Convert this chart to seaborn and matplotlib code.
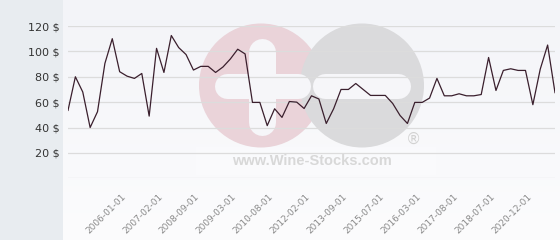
import matplotlib
matplotlib.use("Agg")
import matplotlib.pyplot as plt
import matplotlib.transforms as mtransforms
from matplotlib.patches import Circle, Rectangle
import numpy as np
import pandas as pd
import seaborn as sns

# ---------------- data ----------------
prices = [53.5, 80, 68, 40, 52.5, 90.5, 110, 84, 80.5, 78.7,
          82.6, 49, 102.4, 83.4, 112.5, 103, 97.5, 85.3, 88.2, 88.2,
          83.4, 87.7, 94, 101.7, 98, 59.8, 59.8, 41.5, 54.8, 48,
          60.5, 60, 55, 65, 62.5, 43.2, 54.8, 70, 70, 74.7,
          70, 65.3, 65.3, 65.3, 59, 49.5, 43.2, 59.8, 59.8, 63.2,
          78.7, 65, 65, 66.6, 65, 65, 66, 95.2, 69.2, 85,
          86.3, 85, 85, 58, 86, 105, 67.5]
tick_labels = ["2006-01-01", "2007-02-01", "2008-09-01", "2009-03-01",
               "2010-08-01", "2012-02-01", "2013-09-01", "2015-07-01",
               "2016-03-01", "2017-08-01", "2018-07-01", "2020-12-01"]
first_labelled = 7
label_step = 5
y_ticks = [0, 20, 40, 60, 80, 100, 120]
y_tick_labels = ["", "20 $", "40 $", "60 $", "80 $", "100 $", "120 $"]

df = pd.DataFrame({"idx": np.arange(len(prices)), "price": prices})

W, H = 560, 240
fig = plt.figure(figsize=(W / 100, H / 100), dpi=100)
fig.patch.set_facecolor("#e8ecf0")

# plot background (light gradient)
bg = fig.add_axes([63 / W, 0, (W - 63) / W, 1])
bg.set_axis_off()
grad = np.linspace(0, 1, 256).reshape(-1, 1)
c_top = np.array([243, 244, 248]) / 255
c_bot = np.array([252, 252, 253]) / 255
img = c_top[None, None, :] * (1 - grad[:, :, None]) + c_bot[None, None, :] * grad[:, :, None]
bg.imshow(img, aspect="auto", extent=[0, 1, 0, 1])
bg.set_zorder(0)

# watermark in pixel coordinates
wm = fig.add_axes([0, 0, 1, 1])
wm.set_xlim(0, W)
wm.set_ylim(H, 0)
wm.set_axis_off()
wm.patch.set_alpha(0)
wm.set_zorder(1)
wm.add_patch(Rectangle((196, 147), 240, 28, facecolor="white", alpha=0.25, lw=0))
wm.add_patch(Circle((261, 85.5), 62, facecolor="#ead3d9", lw=0))
wm.add_patch(Circle((362, 85.5), 62, facecolor="#dadadc", lw=0))
px = 0.72
wm.plot([226.5, 297.5], [85.5, 85.5], color="#f6f6f9", lw=25 * px, solid_capstyle="round")
wm.plot([261.5, 261.5], [51.5, 121.5], color="#f6f6f9", lw=27 * px, solid_capstyle="round")
wm.plot([324.5, 397.5], [85.5, 85.5], color="#f6f6f9", lw=25 * px, solid_capstyle="round")
wm.text(413, 139, "®", ha="center", va="center", fontsize=11, color="#d2d2d2")
wm.text(312, 161, "www.Wine-Stocks.com", ha="center", va="center", fontsize=10.5,
        fontweight="bold", color="#d8d8d8", family="Liberation Sans")

# main chart
ax = fig.add_axes([68 / W, (H - 178.3) / H, (555 - 68) / W, (178.3 - 26) / H])
ax.set_zorder(2)
ax.patch.set_alpha(0)
sns.lineplot(data=df, x="idx", y="price", ax=ax, color="#3a1f2d", linewidth=0.9)
ax.set_xlim(0, len(prices) - 1)
ax.set_ylim(0, 120)
for s in ax.spines.values():
    s.set_visible(False)
ax.set_xlabel("")
ax.set_ylabel("")
ax.set_yticks(y_ticks, y_tick_labels)
ax.yaxis.grid(True, color="#dcdcdc", linewidth=0.9)
ax.xaxis.grid(False)
ax.set_axisbelow(True)
ax.tick_params(axis="y", length=0, pad=5.8, labelsize=8, labelcolor="#333333")

positions = [first_labelled + label_step * k for k in range(len(tick_labels))]
ax.set_xticks(positions, tick_labels)
ax.tick_params(axis="x", length=0, pad=10, labelsize=6.5, labelcolor="#8a8a8a")
offset = mtransforms.ScaledTranslation(1.5 / 100, 0, fig.dpi_scale_trans)
for lab in ax.get_xticklabels():
    lab.set_rotation(45)
    lab.set_ha("right")
    lab.set_va("top")
    lab.set_rotation_mode("anchor")
    lab.set_transform(lab.get_transform() + offset)

fig.savefig("out.png", dpi=100, facecolor=fig.get_facecolor())
